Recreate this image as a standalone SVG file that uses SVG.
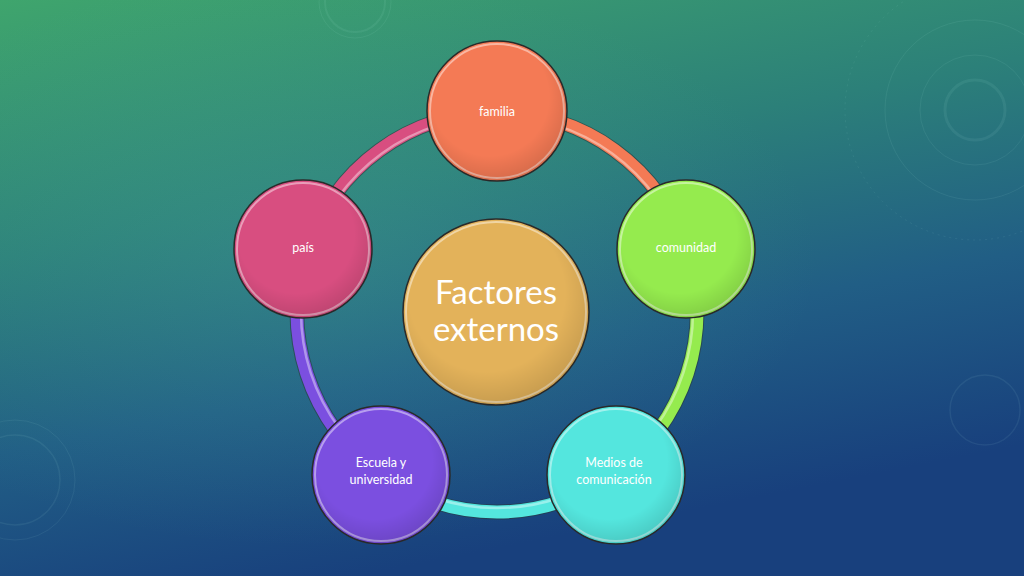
<svg xmlns="http://www.w3.org/2000/svg" width="1024" height="576" viewBox="0 0 1024 576">
<defs>
<linearGradient id="bg" x1="0" y1="0" x2="0.35" y2="1">
<stop offset="0" stop-color="#3fa56d"/>
<stop offset="0.4" stop-color="#2c8079"/>
<stop offset="0.7" stop-color="#215e85"/>
<stop offset="1" stop-color="#18407d"/>
</linearGradient>
<radialGradient id="glow" cx="0.3" cy="0.45" r="0.5">
<stop offset="0" stop-color="#4fb0a0" stop-opacity="0.25"/>
<stop offset="1" stop-color="#4fb0a0" stop-opacity="0"/>
</radialGradient>
<radialGradient id="shade" cx="0.45" cy="0.4" r="0.6">
<stop offset="0.7" stop-color="#000" stop-opacity="0"/>
<stop offset="1" stop-color="#000" stop-opacity="0.12"/>
</radialGradient>
<style>
.node{stroke:#2a2a2a;stroke-width:1.5}
.rim{fill:none;stroke:#fff;stroke-opacity:0.45;stroke-width:2}
.lbl{font-family:Lato,"Open Sans","Liberation Sans",sans-serif;fill:#fff;font-size:12.5px;text-anchor:middle}
.big{font-family:Lato,"Open Sans","Liberation Sans",sans-serif;fill:#fff;font-size:33px;text-anchor:middle}
.edge{fill:none;stroke-width:13}
.edgeo{fill:none;stroke:#2a3a3a;stroke-opacity:0.6;stroke-width:15}
.hl{fill:none;stroke:#fff;stroke-opacity:0.4;stroke-width:2.5}
.deco{fill:none;stroke:#cfe;stroke-opacity:0.07}
</style>
</defs>
<rect width="1024" height="576" fill="url(#bg)"/>
<rect width="1024" height="576" fill="url(#glow)"/>
<g id="decor">
<circle class="deco" cx="355" cy="2" r="30" stroke-width="2"/>
<circle class="deco" cx="355" cy="2" r="36" stroke-width="1"/>
<circle class="deco" cx="975" cy="110" r="30" stroke-width="3"/>
<circle class="deco" cx="975" cy="110" r="55" stroke-width="1"/>
<circle class="deco" cx="975" cy="110" r="90" stroke-width="1"/>
<circle class="deco" cx="975" cy="110" r="130" stroke-width="1" stroke-dasharray="2 4"/>
<circle class="deco" cx="985" cy="410" r="35" stroke-width="1.5"/>
<circle class="deco" cx="15" cy="480" r="45" stroke-width="1.5"/>
<circle class="deco" cx="15" cy="480" r="60" stroke-width="1"/>
</g>
<g id="connectors">
<path class="edgeo" d="M497,112 A200,200 0 0,1 687.2,250.2"/>
<path class="edgeo" d="M687.2,250.2 A200,200 0 0,1 614.6,473.8"/>
<path class="edgeo" d="M614.6,473.8 A200,200 0 0,1 379.4,473.8"/>
<path class="edgeo" d="M379.4,473.8 A200,200 0 0,1 306.8,250.2"/>
<path class="edgeo" d="M306.8,250.2 A200,200 0 0,1 497,112"/>
<path class="edge" stroke="#F47A55" d="M497,112 A200,200 0 0,1 687.2,250.2"/>
<path class="edge" stroke="#95EB4E" d="M687.2,250.2 A200,200 0 0,1 614.6,473.8"/>
<path class="edge" stroke="#54E6DE" d="M614.6,473.8 A200,200 0 0,1 379.4,473.8"/>
<path class="edge" stroke="#7B4FE0" d="M379.4,473.8 A200,200 0 0,1 306.8,250.2"/>
<path class="edge" stroke="#D84E80" d="M306.8,250.2 A200,200 0 0,1 497,112"/>
<path class="hl" d="M497,116 A196,196 0 0,1 683.4,251.4"/>
<path class="hl" d="M683.4,251.4 A196,196 0 0,1 612.2,470.6"/>
<path class="hl" d="M612.2,470.6 A196,196 0 0,1 381.8,470.6"/>
<path class="hl" d="M381.8,470.6 A196,196 0 0,1 310.6,251.4"/>
<path class="hl" d="M310.6,251.4 A196,196 0 0,1 497,116"/>
</g>
<g id="center">
<circle class="node" cx="496" cy="312" r="93" fill="#E3B25A"/>
<circle class="rim" cx="496" cy="312" r="90"/>
<circle cx="496" cy="312" r="93" fill="url(#shade)"/>
<text class="big" x="496" y="304">Factores</text>
<text class="big" x="496" y="341">externos</text>
</g>
<g id="familia">
<circle class="node" cx="497" cy="111" r="70" fill="#F47A55"/>
<circle class="rim" cx="497" cy="111" r="67"/>
<circle cx="497" cy="111" r="70" fill="url(#shade)"/>
<text class="lbl" x="497" y="116">familia</text>
</g>
<g id="comunidad">
<circle class="node" cx="686" cy="249" r="69" fill="#95EB4E"/>
<circle class="rim" cx="686" cy="249" r="66"/>
<circle cx="686" cy="249" r="69" fill="url(#shade)"/>
<text class="lbl" x="686" y="252">comunidad</text>
</g>
<g id="medios">
<circle class="node" cx="616" cy="475" r="69" fill="#54E6DE"/>
<circle class="rim" cx="616" cy="475" r="66"/>
<circle cx="616" cy="475" r="69" fill="url(#shade)"/>
<text class="lbl" x="614" y="467">Medios de</text>
<text class="lbl" x="614" y="484">comunicación</text>
</g>
<g id="escuela">
<circle class="node" cx="381" cy="475" r="69" fill="#7B4FE0"/>
<circle class="rim" cx="381" cy="475" r="66"/>
<circle cx="381" cy="475" r="69" fill="url(#shade)"/>
<text class="lbl" x="381" y="467">Escuela y</text>
<text class="lbl" x="381" y="484">universidad</text>
</g>
<g id="pais">
<circle class="node" cx="303" cy="249" r="69" fill="#D84E80"/>
<circle class="rim" cx="303" cy="249" r="66"/>
<circle cx="303" cy="249" r="69" fill="url(#shade)"/>
<text class="lbl" x="303" y="252">país</text>
</g>
</svg>
